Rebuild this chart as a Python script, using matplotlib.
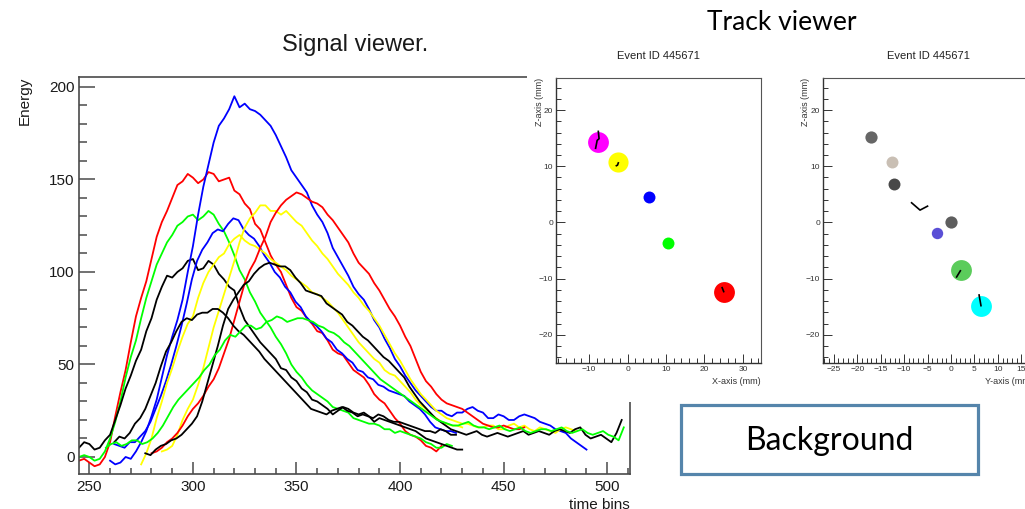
import numpy as np
import matplotlib
matplotlib.use('Agg')
import matplotlib.pyplot as plt
from matplotlib.patches import Rectangle
from matplotlib.ticker import MultipleLocator

plt.rcParams['font.family'] = ['Liberation Sans', 'DejaVu Sans']

# pulse traces, one sample every 2.5 time bins
STEP = 2.5
red_1_start = 245
red_1 = [-2, -1, -3, -5, -4, 0, 8, 22, 35, 47, 62, 76, 86, 95, 107, 119, 127, 133, 140, 147,
         149, 153, 151, 148, 150, 154, 153, 149, 150, 151, 144, 142, 137, 134, 126, 123, 116,
         109, 104, 100, 93, 86, 81, 79, 75, 72, 68, 67, 63, 58, 56, 55, 51, 47, 45, 43, 39, 34,
         31, 29, 25, 21, 18, 14, 12, 11, 9, 6, 5, 3, 6]
green_1_start = 245
green_1 = [0, 1, 0, -2, -1, 3, 10, 19, 30, 43, 54, 63, 75, 86, 95, 104, 110, 116, 120, 125,
           127, 130, 131, 128, 130, 133, 131, 126, 122, 116, 109, 101, 96, 89, 84, 78, 74, 70,
           65, 61, 56, 50, 46, 43, 39, 36, 34, 32, 30, 27, 26, 25, 24, 21, 20, 19, 18, 18, 17,
           15, 15, 13, 14, 13, 12, 11, 10, 8, 7, 5, 5, 7, 6]
black_1_start = 245
black_1 = [5, 8, 7, 4, 5, 9, 12, 20, 28, 37, 44, 52, 58, 68, 75, 85, 92, 98, 97, 100, 102, 106,
           107, 101, 102, 106, 104, 99, 96, 92, 90, 81, 74, 70, 66, 62, 59, 56, 53, 48, 47, 43,
           41, 37, 35, 31, 30, 28, 26, 23, 25, 27, 26, 24, 23, 24, 22, 19, 21, 20, 19, 18, 17,
           16, 15, 14, 12, 10, 9, 8, 7, 6, 5, 4, 4]
blue_1_start = 260
blue_1 = [-2, -4, -3, 0, -1, 3, 8, 14, 22, 31, 43, 55, 65, 74, 85, 100, 114, 131, 146, 158, 170,
          179, 183, 188, 195, 189, 191, 188, 187, 185, 182, 179, 174, 168, 162, 155, 151, 147,
          143, 136, 131, 127, 121, 113, 108, 103, 98, 92, 88, 85, 80, 74, 70, 64, 59, 53, 49,
          44, 40, 36, 33, 30, 27, 25, 25, 23, 22, 24, 24, 26, 27, 25, 24, 21, 21, 23, 22, 20,
          20, 22, 23, 22, 21, 19, 18, 17, 15, 14, 13, 10, 8, 6, 4]
blue_2_start = 262
blue_2 = [7, 6, 5, 8, 8, 11, 14, 19, 26, 33, 41, 50, 60, 71, 83, 96, 106, 112, 116, 121, 123,
          122, 126, 129, 128, 123, 120, 118, 114, 109, 105, 100, 97, 92, 89, 84, 81, 76, 73, 71,
          68, 64, 62, 58, 56, 53, 51, 47, 46, 43, 42, 39, 38, 36, 35, 34, 33, 30, 28, 26, 23,
          19, 16, 15, 14, 14, 13]
yellow_1_start = 275
yellow_1 = [-4, 2, 10, 21, 30, 40, 48, 57, 65, 72, 76, 86, 94, 100, 104, 108, 110, 115, 118,
            120, 117, 115, 114, 112, 110, 107, 105, 103, 101, 98, 96, 94, 92, 89, 88, 86, 84, 81,
            78, 74, 70, 66, 62, 59, 56, 53, 51, 47, 45, 44, 41, 38, 35, 31, 28, 26, 23, 21, 19,
            18, 17, 17, 16]
yellow_2_start = 285
yellow_2 = [3, 4, 6, 12, 20, 26, 31, 39, 48, 59, 70, 79, 88, 97, 106, 116, 124, 129, 132, 136,
            136, 133, 133, 131, 133, 130, 127, 125, 121, 117, 114, 110, 107, 103, 99, 96, 93, 89,
            86, 82, 79, 75, 71, 66, 61, 56, 52, 47, 42, 38, 34, 31, 28, 25, 23, 21, 20, 19, 18,
            18, 17, 16, 16, 17, 17, 15, 15, 17, 18, 16, 17, 15, 14, 16, 15, 14, 13, 15, 16, 15,
            14]
red_2_start = 280
red_2 = [2, 3, 5, 8, 10, 13, 17, 22, 26, 29, 33, 38, 42, 48, 56, 64, 74, 84, 94, 101, 106, 113,
         119, 127, 132, 136, 139, 141, 143, 142, 140, 138, 137, 135, 131, 128, 124, 120, 116,
         110, 105, 102, 99, 94, 90, 85, 80, 76, 71, 65, 60, 53, 46, 41, 38, 34, 31, 29, 28, 27,
         26, 24, 22, 20, 18, 17, 16, 16, 17, 16, 15, 15, 16]
black_2_start = 262
black_2 = [8, 11, 10, 13, 18, 21, 26, 33, 40, 49, 57, 62, 68, 73, 75, 74, 77, 78, 78, 80, 80,
           78, 75, 71, 68, 66, 63, 60, 57, 53, 50, 47, 44, 41, 38, 35, 32, 29, 26, 25, 24, 23,
           25, 26, 27, 25, 24, 22, 23, 22, 21, 23, 22, 20, 19, 19, 18, 17, 16, 15, 14, 14, 13,
           15, 14, 12, 12]
black_3_start = 277
black_3 = [2, 1, 4, 6, 7, 9, 10, 12, 15, 18, 22, 30, 40, 50, 60, 71, 80, 85, 89, 93, 95, 99,
           102, 104, 105, 104, 103, 103, 101, 97, 94, 90, 89, 88, 87, 83, 81, 79, 77, 73, 71, 68,
           65, 63, 60, 57, 54, 52, 49, 46, 43, 38, 34, 30, 27, 24, 21, 19, 17, 15, 14, 13, 12,
           13, 14, 12, 11, 12, 13, 12, 11, 12, 13, 14, 12, 13, 14, 13, 12, 14, 15, 14, 13, 15,
           16, 12, 10, 11, 12, 10, 8, 13, 20]
green_2_start = 258
green_2 = [5, 7, 8, 6, 7, 9, 9, 7, 8, 10, 13, 17, 22, 27, 31, 34, 37, 40, 43, 47, 50, 55, 58,
           63, 66, 65, 68, 71, 71, 69, 70, 73, 74, 76, 75, 73, 74, 75, 75, 74, 73, 71, 70, 68,
           67, 65, 62, 60, 57, 54, 51, 48, 45, 42, 40, 38, 36, 34, 32, 30, 28, 26, 24, 22, 20,
           19, 18, 17, 17, 18, 19, 17, 16, 16, 15, 16, 17, 15, 14, 15, 16, 14, 13, 14, 15, 15,
           14, 15, 16, 14, 13, 14, 15, 13, 12, 13, 14, 12, 11, 9, 16]

traces = [
    (red_1_start, red_1, 'red'),
    (green_1_start, green_1, 'lime'),
    (black_1_start, black_1, 'black'),
    (blue_1_start, blue_1, 'blue'),
    (blue_2_start, blue_2, 'blue'),
    (yellow_1_start, yellow_1, 'yellow'),
    (yellow_2_start, yellow_2, 'yellow'),
    (red_2_start, red_2, 'red'),
    (black_2_start, black_2, 'black'),
    (black_3_start, black_3, 'black'),
    (green_2_start, green_2, 'lime'),
]

# hits in the two track projections (mm)
xz_x = [-7.6, -2.6, 5.5, 10.4, 25.0]
xz_z = [14.4, 10.7, 4.6, -3.7, -12.3]
xz_colors = ['magenta', 'yellow', 'blue', 'lime', 'red']
xz_sizes = [15, 14.5, 8.6, 8.6, 15]
xz_tracks = [
    ([-8.3, -7.9, -7.4, -7.6], [13.2, 14.6, 14.9, 16.2]),
    ([-2.9, -2.6, -2.4], [10.1, 10.2, 10.6]),
    ([24.6, 25.0], [-11.6, -12.3]),
]

yz_y = [-17.1, -12.5, -12.1, 0.0, -2.9, 2.1, 6.5]
yz_z = [15.2, 10.7, 6.8, 0.0, -1.8, -8.4, -14.8]
yz_colors = ['#666666', '#c9bfb4', '#484848', '#5e5e5e', '#5a4fd6', '#5bcc5b', '#00ffff']
yz_sizes = [8.8, 8.6, 8.6, 8.8, 8.2, 15, 15]
yz_tracks = [
    ([-8.4, -6.6, -5.0], [3.5, 2.2, 2.9]),
    ([1.2, 2.0], [-9.7, -8.6]),
    ([6.0, 6.4], [-12.9, -14.8]),
]

W, H = 1025, 509
fig = plt.figure(figsize=(W / 100, H / 100), dpi=100)


def box(left, top, right, bottom):
    return [left / W, 1 - bottom / H, (right - left) / W, (bottom - top) / H]


frame = '#4a4a4a'

# signal viewer
ax = fig.add_axes(box(79, 77, 630, 474))
for start, vals, col in traces:
    t = start + STEP * np.arange(len(vals))
    ax.plot(t, vals, color=col, lw=1.3)
ax.set_xlim(245, 511)
ax.set_ylim(-9.2, 205.4)
ax.xaxis.set_major_locator(MultipleLocator(50))
ax.xaxis.set_minor_locator(MultipleLocator(10))
ax.yaxis.set_major_locator(MultipleLocator(50))
ax.yaxis.set_minor_locator(MultipleLocator(10))
ax.tick_params(which='both', direction='in', color=frame, width=1.1,
               labelsize=11, labelcolor='#1a1a1a')
ax.tick_params(axis='y', which='major', length=11.5, pad=3)
ax.tick_params(axis='y', which='minor', length=6)
ax.tick_params(axis='x', which='major', length=8.5, pad=4)
ax.tick_params(axis='x', which='minor', length=4.3)
for sp in ax.spines.values():
    sp.set_color(frame)
    sp.set_linewidth(1.2)
ax.set_ylabel('Energy', loc='top', fontsize=11, color='#1a1a1a')
ax.yaxis.set_label_coords(-0.085, 1.0)
ax.set_xlabel('time bins', loc='right', fontsize=11, color='#1a1a1a')
ax.xaxis.set_label_coords(1.0, -0.06)

fig.text(355 / W, 1 - 45 / H, 'Signal viewer.', fontsize=17, ha='center', va='center',
         color='#1a1a1a')

# white backdrop for the track viewer
fig.add_artist(Rectangle((527 / W, 1 - 402 / H), 1 - 527 / W, 402 / H,
                         transform=fig.transFigure, facecolor='white',
                         edgecolor='none', zorder=1))


def track_panel(rect, xlim, major, hx, hz, colors, sizes, tracks, xlabel):
    pa = fig.add_axes(rect)
    pa.set_zorder(2)
    for x, z, c, s in zip(hx, hz, colors, sizes):
        pa.plot(x, z, 'o', color=c, ms=s, mec='none')
    for tx, tz in tracks:
        pa.plot(tx, tz, color='black', lw=1.2)
    pa.set_xlim(*xlim)
    pa.set_ylim(-25, 25.7)
    pa.xaxis.set_major_locator(MultipleLocator(major))
    pa.xaxis.set_minor_locator(MultipleLocator(major / 5))
    pa.yaxis.set_major_locator(MultipleLocator(10))
    pa.yaxis.set_minor_locator(MultipleLocator(2))
    pa.tick_params(which='both', direction='in', labelsize=6, labelcolor='#333333',
                   color='#333333', width=0.7, pad=2)
    pa.tick_params(which='major', length=6.5)
    pa.tick_params(which='minor', length=3.5)
    for side in ['top', 'right']:
        pa.spines[side].set_color('#555555')
        pa.spines[side].set_linewidth(0.8)
    for side in ['left', 'bottom']:
        pa.spines[side].set_color('#333333')
        pa.spines[side].set_linewidth(1.0)
    pa.set_xlabel(xlabel, loc='right', fontsize=6.5, color='#333333')
    pa.xaxis.set_label_coords(1.0, -0.05)
    pa.set_ylabel('Z-axis (mm)', loc='top', fontsize=6.5, color='#333333')
    pa.yaxis.set_label_coords(-0.06, 1.0)
    pa.set_title('Event ID 445671', fontsize=8, color='#222222', pad=14)
    return pa


track_panel(box(556, 78, 761, 363), (-18.6, 34.7), 10, xz_x, xz_z, xz_colors, xz_sizes,
            xz_tracks, 'X-axis (mm)')
track_panel(box(823, 78, 1033, 363), (-27.3, 17.5), 5, yz_y, yz_z, yz_colors, yz_sizes,
            yz_tracks, 'Y-axis (mm)')

fig.text(782 / W, 1 - 22 / H, 'Track viewer', fontsize=19, ha='center', va='center',
         family='Lato', color='black', zorder=3)

# background label box
fig.add_artist(Rectangle((681 / W, 1 - 474 / H), 297 / W, 69 / H, transform=fig.transFigure,
                         facecolor='white', edgecolor='#5585ab', lw=2.3, zorder=3))
fig.text(829 / W, 1 - 441 / H, 'Background', fontsize=23, ha='center', va='center',
         family='Lato', color='black', zorder=4)

fig.savefig('out.png', dpi=100)
